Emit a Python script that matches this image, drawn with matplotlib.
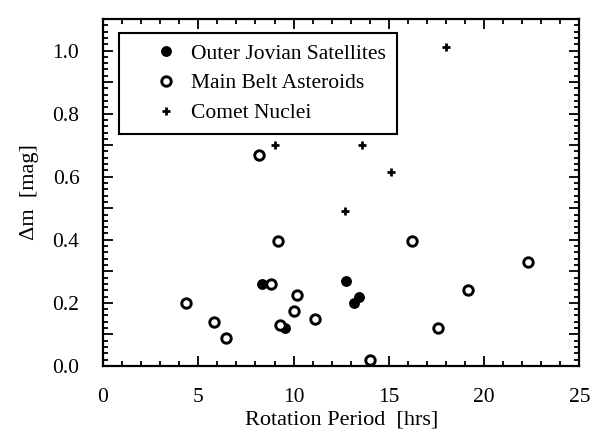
import matplotlib
matplotlib.use("Agg")
import matplotlib.pyplot as plt
from matplotlib.ticker import MultipleLocator

plt.rcParams['font.family'] = ['Liberation Serif', 'DejaVu Serif']

jovian_period = [8.35, 9.55, 12.75, 13.15, 13.45]
jovian_dm = [0.26, 0.12, 0.27, 0.20, 0.22]

mba_period = [4.35, 5.8, 6.45, 8.2, 8.8, 9.2, 9.3, 10.0, 10.2, 11.1, 14.0, 16.2, 17.6, 19.15, 22.3]
mba_dm = [0.20, 0.14, 0.09, 0.67, 0.26, 0.395, 0.13, 0.175, 0.225, 0.15, 0.02, 0.395, 0.12, 0.24, 0.33]

comet_period = [9.0, 12.7, 13.6, 15.1, 18.0]
comet_dm = [0.70, 0.49, 0.70, 0.615, 1.01]

xticks = [0, 5, 10, 15, 20, 25]
ytick_labels = ['0.0', '', '0.2', '', '0.4', '', '0.6', '', '0.8', '', '1.0', '']

fig = plt.figure(figsize=(5.9, 4.32), dpi=100)
ax = fig.add_axes([0.1746, 0.153, 0.8076, 0.803])

ax.plot(jovian_period, jovian_dm, 'o', color='black', markersize=6.8,
        label='Outer Jovian Satellites')
ax.plot(mba_period, mba_dm, 'o', markerfacecolor='white', markeredgecolor='black',
        markersize=6.8, markeredgewidth=2.1, label='Main Belt Asteroids')
ax.plot(comet_period, comet_dm, '+', color='black', markersize=6,
        markeredgewidth=2.0, label='Comet Nuclei')

ax.set_xlim(0, 25)
ax.set_ylim(0, 1.10)
ax.set_xticks(xticks)
ax.set_xticklabels([str(t) for t in xticks])
ax.set_yticks([i * 0.1 for i in range(12)])
ax.set_yticklabels(ytick_labels)
ax.xaxis.set_minor_locator(MultipleLocator(1))
ax.yaxis.set_minor_locator(MultipleLocator(0.02))
ax.tick_params(which='both', direction='in', top=True, right=True, width=1.3,
               labelsize=15.5, colors='black')
ax.tick_params(which='major', length=7)
ax.tick_params(which='minor', length=3.5)
ax.tick_params(axis='x', which='major', pad=16)
ax.tick_params(axis='y', which='major', pad=17)
for s in ax.spines.values():
    s.set_linewidth(1.6)

ax.set_xlabel('Rotation Period  [hrs]', fontsize=16, labelpad=2.5)
ax.set_ylabel('Δm  [mag]', fontsize=16, labelpad=10)

leg = ax.legend(loc='upper left', bbox_to_anchor=(0.0336, 0.96), fontsize=15.5,
                frameon=True, fancybox=False, edgecolor='black', framealpha=1,
                handletextpad=-0.55, borderpad=0.5, labelspacing=0.45, handlelength=3.4,
                borderaxespad=0.0)
leg.get_frame().set_linewidth(1.5)

fig.savefig('out.png', dpi=100)
